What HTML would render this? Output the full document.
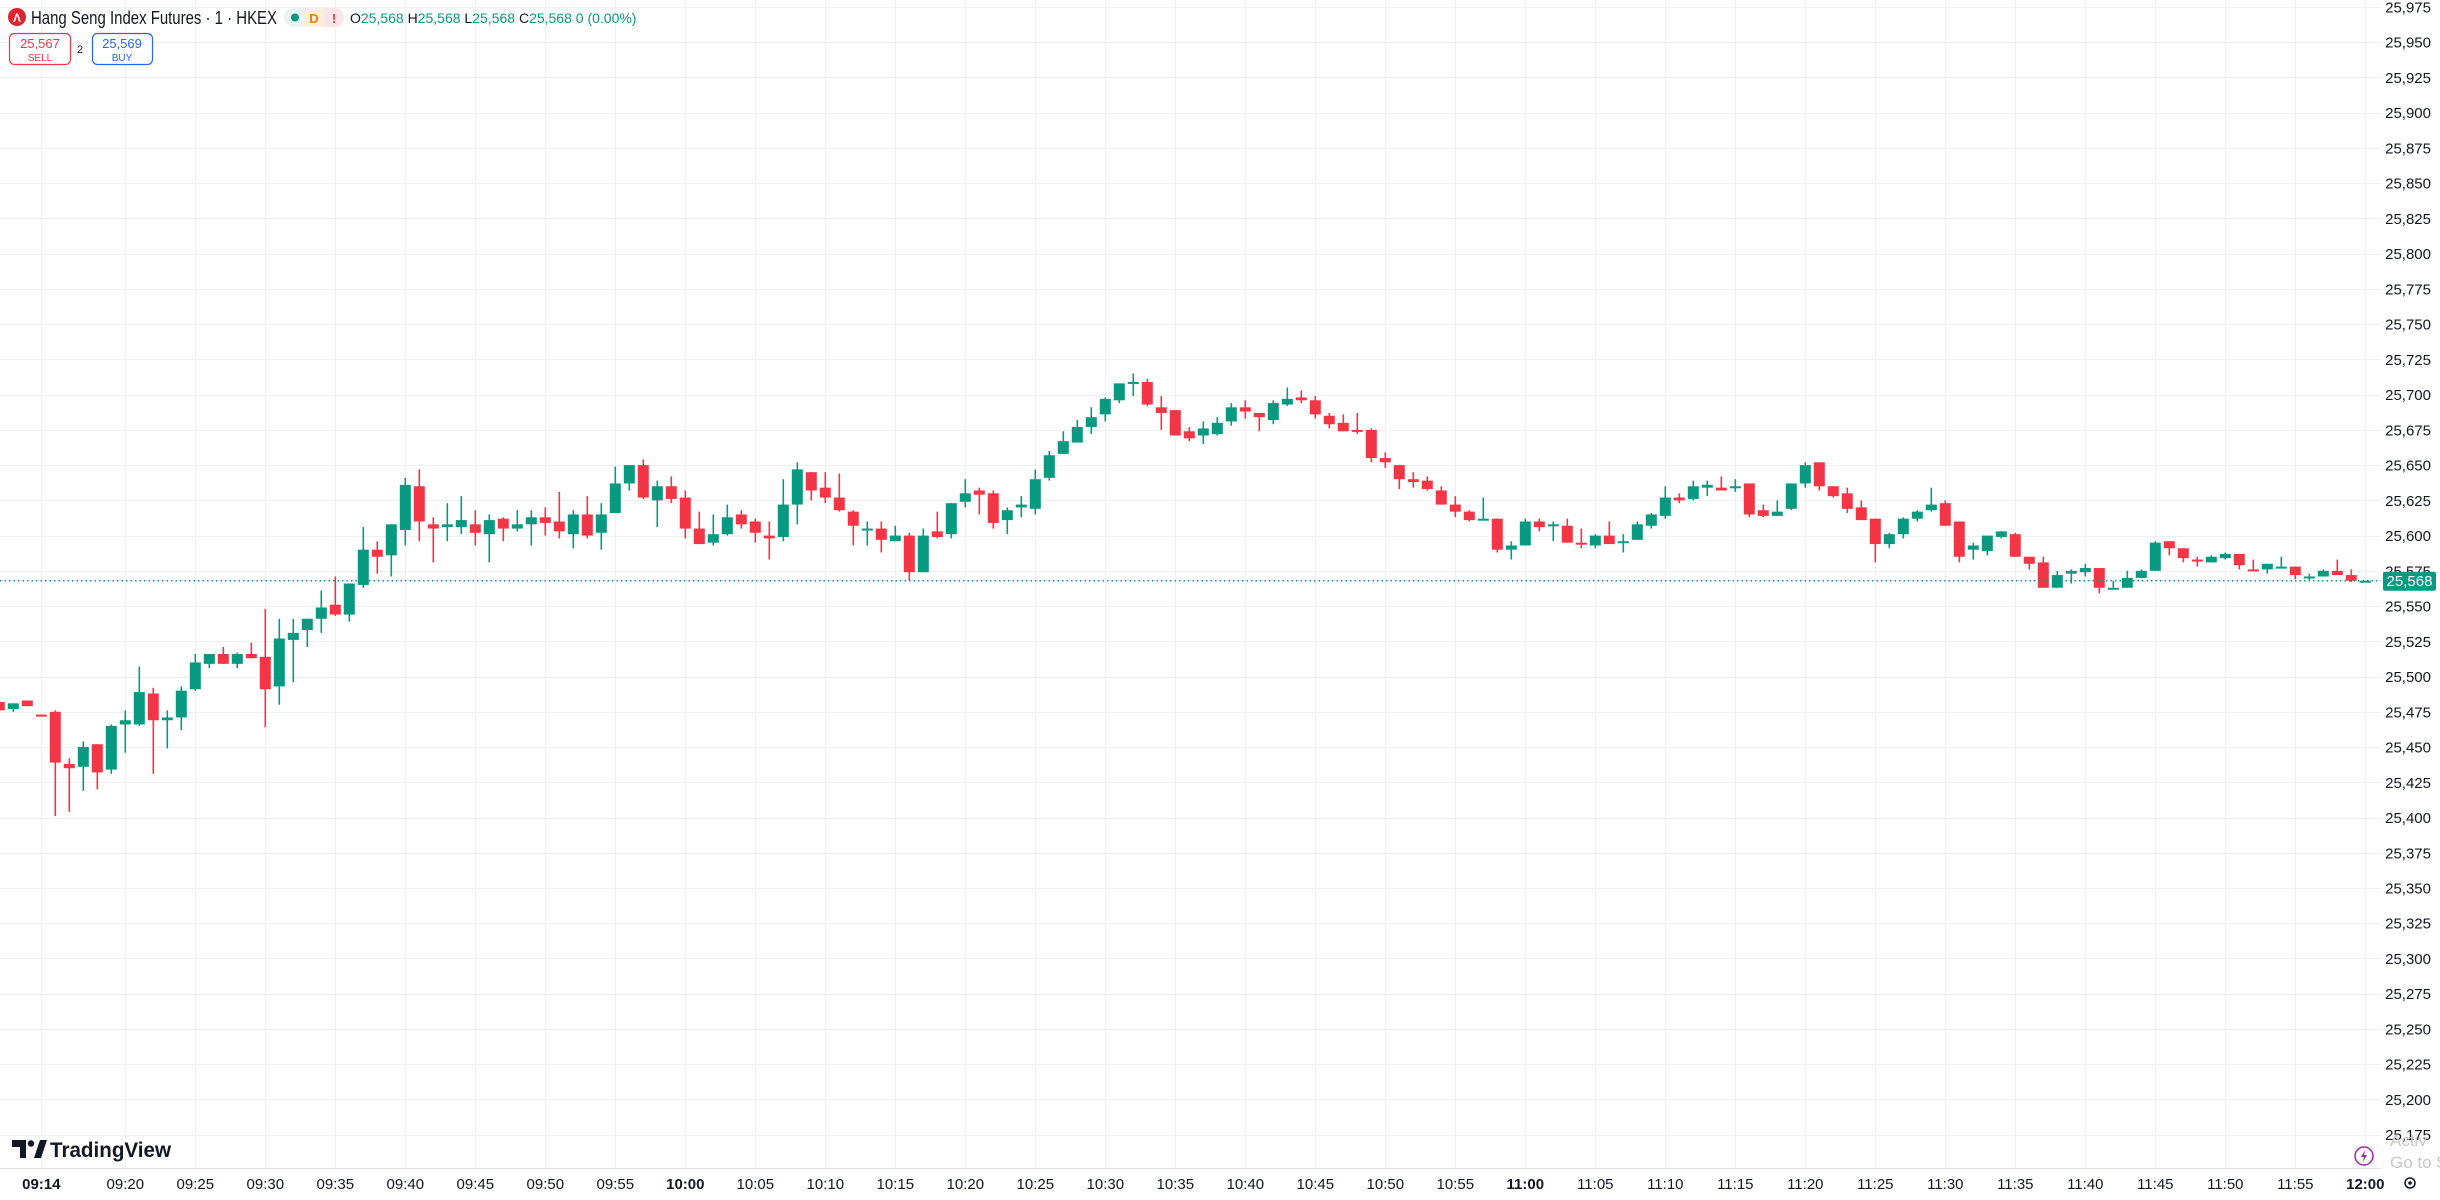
<!DOCTYPE html>
<html><head><meta charset="utf-8">
<style>
html,body{margin:0;padding:0;background:#fff;overflow:hidden}
svg{display:block;font-family:"Liberation Sans",Arial,sans-serif}
</style></head>
<body>
<svg id="c" width="2440" height="1200" viewBox="0 0 2440 1200" xmlns="http://www.w3.org/2000/svg">
<rect width="2440" height="1200" fill="#fff"/>
<g id="grid"></g>
<g id="candles"></g>
<g id="axis"></g>
<!-- header -->
<circle cx="17" cy="17" r="9" fill="#e0242e"/>
<text x="17" y="22" font-size="12" font-weight="bold" fill="#fff" text-anchor="middle">Λ</text>
<text x="31" y="24" font-size="18" fill="#131722" textLength="246" lengthAdjust="spacingAndGlyphs">Hang Seng Index Futures · 1 · HKEX</text>
<rect x="284" y="8" width="60" height="19" rx="9.5" fill="#e8f5f1"/>
<rect x="304" y="8" width="20" height="19" fill="#fdeedd"/>
<path d="M324 8h10.5a9.5 9.5 0 0 1 0 19H324z" fill="#fde5e7"/>
<circle cx="295" cy="17.5" r="4" fill="#089981"/>
<text x="314" y="23" font-size="13" font-weight="bold" fill="#f57c00" text-anchor="middle">D</text>
<text x="334" y="23" font-size="13" font-weight="bold" fill="#f23645" text-anchor="middle">!</text>
<text x="350" y="23" font-size="14" fill="#131722">O<tspan fill="#089981">25,568</tspan> H<tspan fill="#089981">25,568</tspan> L<tspan fill="#089981">25,568</tspan> C<tspan fill="#089981">25,568 0 (0.00%)</tspan></text>
<rect x="9.5" y="33.5" width="61" height="31" rx="5" fill="#fff" stroke="#f23645" stroke-width="1.2"/>
<text x="40" y="48" font-size="13" fill="#f23645" text-anchor="middle">25,567</text>
<text x="40" y="61" font-size="10" fill="#f23645" text-anchor="middle">SELL</text>
<text x="80" y="53" font-size="11" fill="#131722" text-anchor="middle">2</text>
<rect x="92.5" y="33.5" width="60" height="31" rx="5" fill="#fff" stroke="#2962ff" stroke-width="1.2"/>
<text x="122" y="48" font-size="13" fill="#2962ff" text-anchor="middle">25,569</text>
<text x="122" y="61" font-size="10" fill="#2962ff" text-anchor="middle">BUY</text>
<!-- TradingView logo -->
<path d="M12 1140h14v18h-6v-11h-8z" fill="#131722"/>
<circle cx="31" cy="1143.5" r="3.2" fill="#131722"/>
<path d="M34 1158l6-18h7l-6 18z" fill="#131722"/>
<text x="50" y="1157" font-size="21" font-weight="bold" fill="#131722" textLength="121" lengthAdjust="spacingAndGlyphs">TradingView</text>
<!-- bottom right -->
<circle cx="2364" cy="1156" r="9" fill="none" stroke="#9c27b0" stroke-width="1.5"/>
<path d="M2365 1150l-4 7h3l-1 5 4-7h-3z" fill="#9c27b0"/>
<text x="2390" y="1146" font-size="17" fill="#c8c8c8">Activ</text>
<text x="2390" y="1168" font-size="17" fill="#c8c8c8">Go to S</text>
<circle cx="2410" cy="1183" r="5" fill="none" stroke="#131722" stroke-width="1.5"/>
<circle cx="2410" cy="1183" r="1.8" fill="#131722"/>
</svg>
<script>
const D=[
[25482,25483,25476,25476],[25477,25481,25475,25481],[25483,25483,25479,25479],[25473,25473,25472,25472.5],
[25475,25476,25401,25439],[25438,25442,25404,25435],[25436,25454,25419,25450],[25452,25452,25420,25432],
[25434,25466,25431,25465],[25466,25476,25446,25469],[25466,25507,25465,25489],[25488,25492,25431,25469],
[25469,25476,25449,25471],[25471,25493,25462,25490],[25491,25516,25490,25510],[25509,25516,25506,25516],
[25516,25521,25509,25509],[25509,25517,25506,25516],[25516,25524,25513,25513],[25514,25548,25464,25491],
[25493,25541,25480,25527],[25526,25541,25496,25531],[25533,25541,25521,25541],[25541,25561,25531,25549],
[25551,25571,25543,25544],[25544,25566,25539,25566],[25565,25606,25563,25590],[25590,25596,25573,25585],
[25586,25608,25571,25608],[25604,25641,25593,25636],[25635,25647,25596,25610],[25608,25613,25581,25605],
[25606,25623,25596,25608],[25606,25628,25601,25611],[25608,25618,25593,25602],[25601,25615,25581,25611],
[25612,25613,25596,25605],[25605,25618,25603,25608],[25608,25618,25593,25613],[25613,25620,25600,25609],
[25610,25631,25598,25603],[25601,25618,25591,25615],[25615,25628,25598,25600],[25602,25623,25590,25615],
[25616,25649,25616,25637],[25637,25650,25632,25650],[25650,25654,25626,25627],[25625,25639,25606,25635],
[25635,25642,25623,25626],[25627,25632,25598,25605],[25605,25617,25594,25594],[25595,25615,25593,25601],
[25601,25622,25600,25613],[25615,25618,25605,25608],[25610,25612,25595,25602],[25600,25610,25583,25598],
[25599,25640,25596,25622],[25622,25652,25608,25647],[25645,25645,25625,25632],[25634,25645,25623,25627],
[25627,25644,25617,25618],[25617,25618,25593,25607],[25605,25610,25593,25605],[25605,25610,25588,25597],
[25596,25607,25596,25600],[25600,25602,25568,25574],[25574,25605,25574,25600],[25603,25617,25598,25599],
[25601,25623,25598,25623],[25624,25640,25620,25630],[25632,25634,25615,25629],[25630,25632,25605,25609],
[25611,25620,25601,25618],[25620,25628,25613,25622],[25619,25647,25615,25640],[25641,25660,25639,25657],
[25658,25674,25658,25667],[25666,25682,25666,25677],[25677,25691,25672,25684],[25686,25698,25681,25697],
[25696,25708,25694,25708],[25709,25715,25699,25709],[25709,25711,25692,25693],[25691,25699,25675,25687],
[25689,25689,25671,25671],[25674,25677,25667,25669],[25671,25681,25665,25676],[25672,25684,25671,25680],
[25681,25694,25678,25691],[25691,25696,25683,25688],[25687,25687,25674,25684],[25682,25696,25679,25694],
[25693,25705,25692,25697],[25698,25703,25694,25696],[25696,25699,25683,25686],[25685,25687,25676,25679],
[25680,25686,25674,25674],[25675,25687,25672,25674],[25675,25676,25652,25655],[25655,25659,25648,25652],
[25650,25650,25633,25640],[25640,25645,25634,25638],[25639,25642,25632,25633],[25632,25635,25622,25622],
[25622,25628,25613,25617],[25617,25618,25610,25611],[25611,25627,25611,25612],[25612,25612,25588,25590],
[25590,25596,25583,25593],[25593,25612,25593,25610],[25610,25612,25603,25606],[25608,25610,25596,25608],
[25607,25612,25595,25595],[25595,25605,25591,25594],[25593,25601,25591,25600],[25600,25610,25594,25594],
[25595,25601,25588,25596],[25597,25610,25597,25608],[25607,25616,25605,25615],[25614,25635,25612,25627],
[25627,25630,25623,25625],[25626,25639,25625,25635],[25634,25639,25628,25636],[25634,25642,25632,25632],
[25635,25640,25631,25635],[25637,25637,25613,25615],[25618,25622,25613,25614],[25614,25625,25614,25617],
[25619,25637,25618,25637],[25637,25652,25634,25650],[25652,25652,25632,25635],[25635,25635,25627,25628],
[25630,25634,25616,25619],[25620,25625,25611,25611],[25612,25612,25581,25594],[25594,25602,25591,25601],
[25601,25613,25598,25612],[25612,25618,25610,25617],[25618,25634,25617,25622],[25623,25625,25607,25607],
[25610,25610,25581,25585],[25590,25595,25583,25593],[25589,25600,25586,25600],[25599,25603,25598,25603],
[25601,25602,25585,25585],[25585,25585,25576,25580],[25581,25585,25563,25563],[25563,25575,25563,25572],
[25573,25576,25566,25575],[25574,25580,25571,25577],[25577,25577,25559,25563],[25563,25568,25563,25563],
[25563,25575,25563,25570],[25570,25576,25570,25575],[25575,25596,25575,25595],[25596,25596,25586,25591],
[25591,25591,25581,25584],[25583,25585,25578,25582],[25581,25586,25581,25585],[25584,25588,25583,25587],
[25587,25587,25576,25579],[25576,25583,25575,25575],[25576,25580,25573,25580],[25578,25585,25578,25578],
[25578,25578,25569,25572],[25571,25573,25568,25571],[25571,25576,25571,25575],[25575,25583,25572,25572],
[25572,25576,25567,25568],[25568,25568,25568,25568]];
const NS="http://www.w3.org/2000/svg";
function el(p,t,a,txt){const e=document.createElementNS(NS,t);for(const k in a)e.setAttribute(k,a[k]);if(txt!==undefined)e.textContent=txt;p.appendChild(e);return e;}
const Y=p=>7+(25975-p)*1.4096;
const X=i=>41.3+14*(i-3);
const g=document.getElementById('grid'),cg=document.getElementById('candles'),ax=document.getElementById('axis');
const PW=2381, TB=1168;
for(let p=25975;p>=25175;p-=25){const y=Math.round(Y(p))+0.5;el(g,'line',{x1:0,x2:PW,y1:y,y2:y,stroke:'#f0f0f0','stroke-width':1});
 el(ax,'text',{x:2431,y:Y(p)+5.5,'font-size':15,fill:'#131722','text-anchor':'end'},p.toLocaleString('en-US'));}
const times=[['09:14',3,1]];
for(let m=20;m<=180;m+=5){const tot=9*60+m;const h=Math.floor(tot/60),mm=tot%60;
 const lab=String(h).padStart(2,'0')+':'+String(mm).padStart(2,'0');times.push([lab,tot-(9*60+11),mm==0?1:0]);}
for(const [lab,i,b] of times){const x=Math.round(X(i))+0.5;
 el(g,'line',{x1:x,x2:x,y1:0,y2:TB,stroke:'#f0f0f0','stroke-width':1});
 el(ax,'text',{x:X(i),y:1189,'font-size':15,fill:'#131722','text-anchor':'middle','font-weight':b?'bold':'normal'},lab);}
el(ax,'line',{x1:0,x2:PW,y1:TB+0.5,y2:TB+0.5,stroke:'#e0e3eb','stroke-width':1});
D.forEach((d,i)=>{const [o,h,l,c]=d;const col=c>=o?'#089981':'#f23645';const x=X(i);
 el(cg,'rect',{x:x-0.8,y:Y(h),width:1.6,height:Math.max(1.5,Y(l)-Y(h)),fill:col});
 const t=Y(Math.max(o,c)),bh=Math.max(2,Math.abs(Y(o)-Y(c)));
 el(cg,'rect',{x:x-5.5,y:t,width:11,height:bh,fill:col});});
const py=Y(25568);
el(cg,'line',{x1:0,x2:PW,y1:py,y2:py,stroke:'#089981','stroke-width':1.5,'stroke-dasharray':'1.5 3'});
el(ax,'rect',{x:2383,y:py-9,width:53,height:19,rx:2,fill:'#089981'});
el(ax,'text',{x:2409.5,y:py+5.5,'font-size':15,fill:'#fff','text-anchor':'middle'},'25,568');
</script>
</body></html>
